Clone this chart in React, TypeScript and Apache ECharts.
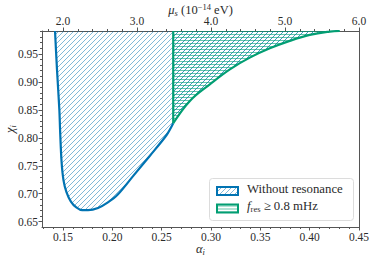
import React, { useEffect, useRef } from "react";
import * as echarts from "echarts";

// ---- data ----
const alphaTicks = [0.15, 0.2, 0.25, 0.3, 0.35, 0.4, 0.45];
const chiTicks = [0.65, 0.7, 0.75, 0.8, 0.85, 0.9, 0.95];
const muTicks = [2.0, 3.0, 4.0, 5.0, 6.0];

// lower boundary of the region without resonance (blue)
const blueAlpha = [0.1419, 0.1439, 0.1463, 0.147, 0.1485, 0.1505, 0.1535, 0.158, 0.1635, 0.1695, 0.1755, 0.1855, 0.1955, 0.2055, 0.2212, 0.2381, 0.255, 0.2617];
const blueChi = [0.991, 0.922, 0.85, 0.815, 0.758, 0.724, 0.703, 0.686, 0.6755, 0.6705, 0.6705, 0.6745, 0.6845, 0.6985, 0.732, 0.768, 0.805, 0.826];

// boundary of the f_res >= 0.8 mHz region (green)
const greenAlpha = [0.2617, 0.2786, 0.2988, 0.3191, 0.3393, 0.3596, 0.3798, 0.4001, 0.4203, 0.4305];
const greenChi = [0.826, 0.866, 0.8956, 0.9225, 0.9434, 0.96, 0.9733, 0.984, 0.9899, 0.991];

const chiTop = 0.991;
const alphaMin = 0.1287;
const alphaMax = 0.45;
const chiMin = 0.6405;
const chiMax = 0.991;
const alphaPerMu = 0.075; // alpha_i = 0.075 * mu_s (10^-14 eV)

const BLUE = "#0173B2";
const GREEN = "#029E73";
const FONT = "Liberation Serif";
const TXT = "#2b2b2b";
const FRAME = "#555555";
const HATCH_BLUE = "rgba(1,115,178,0.5)";
const HATCH_GREEN = "rgba(2,158,115,0.6)";

function range(a: number, b: number, step: number): number[] {
  const out: number[] = [];
  const n = Math.round((b - a) / step);
  for (let i = 0; i <= n; i++) out.push(+(a + i * step).toFixed(4));
  return out;
}

function makePattern(size: number, diag: boolean, horiz: boolean) {
  const c = document.createElement("canvas");
  c.width = size;
  c.height = size;
  const ctx = c.getContext("2d")!;
  if (diag) {
    ctx.strokeStyle = HATCH_BLUE;
    ctx.lineWidth = 1;
    ctx.beginPath();
    for (let cc = 0; cc <= 2 * size; cc += 5) {
      ctx.moveTo(cc + 1, -1);
      ctx.lineTo(cc - size - 1, size + 1);
    }
    ctx.stroke();
  }
  if (horiz) {
    ctx.fillStyle = HATCH_GREEN;
    for (let y = 1; y < size; y += 3) ctx.fillRect(0, y, size, 1);
  }
  return { image: c, repeat: "repeat", imageWidth: size, imageHeight: size } as any;
}

const richMath = {
  n: { fontFamily: FONT, fontSize: 12.5, color: TXT, lineHeight: 15 },
  i: { fontFamily: FONT, fontSize: 12.5, fontStyle: "italic", color: TXT, lineHeight: 15 },
  sub: { fontFamily: FONT, fontSize: 8.5, fontStyle: "italic", color: TXT, lineHeight: 9, verticalAlign: "bottom" },
  sup: { fontFamily: FONT, fontSize: 8.5, color: TXT, lineHeight: 9, verticalAlign: "top" },
};

export default function App() {
  const ref = useRef<HTMLDivElement>(null);

  useEffect(() => {
    if (!ref.current) return;
    const chart = echarts.init(ref.current, undefined, { renderer: "svg" });

    const bluePat = makePattern(15, true, false);
    const greenPat = makePattern(15, true, true);
    const greenLegendPat = makePattern(15, false, true);

    const regionAlpha = [...blueAlpha, ...greenAlpha.slice(1)];
    const regionChi = [...blueChi, ...greenChi.slice(1)];

    const labelBase = { fontFamily: FONT, fontSize: 11.5, color: TXT };
    const tickLine = { color: FRAME, width: 1 };

    const option: any = {
      animation: false,
      grid: { left: 42, right: 15, top: 31, bottom: 33, containLabel: false, outerBoundsMode: "none" },
      xAxis: [
        {
          type: "value", position: "bottom", min: alphaMin, max: alphaMax,
          axisLine: { show: true, onZero: false, lineStyle: tickLine },
          axisTick: { show: true, customValues: alphaTicks, length: 3.5, lineStyle: tickLine },
          axisLabel: { customValues: alphaTicks, formatter: (v: number) => v.toFixed(2), margin: 4, ...labelBase },
          splitLine: { show: false },
          name: "{i|α}{sub|i}", nameLocation: "middle", nameGap: 14.5, nameMoveOverlap: false,
          nameTextStyle: { rich: richMath },
        },
        {
          type: "value", position: "bottom", min: alphaMin, max: alphaMax,
          axisLine: { show: false, onZero: false },
          axisTick: { show: true, customValues: range(0.13, 0.45, 0.01), length: 2, lineStyle: tickLine },
          axisLabel: { show: false },
          splitLine: { show: false },
        },
        {
          type: "value", position: "top", min: alphaMin / alphaPerMu, max: alphaMax / alphaPerMu,
          axisLine: { show: true, onZero: false, lineStyle: tickLine },
          axisTick: { show: true, customValues: muTicks, length: 3.5, lineStyle: tickLine },
          axisLabel: { customValues: muTicks, formatter: (v: number) => v.toFixed(1), margin: 4, ...labelBase },
          splitLine: { show: false },
          name: "{i|μ}{sub|s} {n|(10}{sup|−14}{n| eV)}", nameLocation: "middle", nameGap: 13.5, nameMoveOverlap: false,
          nameTextStyle: { rich: richMath },
        },
        {
          type: "value", position: "top", min: alphaMin / alphaPerMu, max: alphaMax / alphaPerMu,
          axisLine: { show: false, onZero: false },
          axisTick: { show: true, customValues: range(1.8, 6.0, 0.2), length: 2, lineStyle: tickLine },
          axisLabel: { show: false },
          splitLine: { show: false },
        },
      ],
      yAxis: [
        {
          type: "value", position: "left", min: chiMin, max: chiMax,
          axisLine: { show: true, onZero: false, lineStyle: tickLine },
          axisTick: { show: true, customValues: chiTicks, length: 3.5, lineStyle: tickLine },
          axisLabel: { customValues: chiTicks, formatter: (v: number) => v.toFixed(2), margin: 4, ...labelBase },
          splitLine: { show: false },
          name: "{i|χ}{sub|i}", nameLocation: "middle", nameGap: 25, nameRotate: 90, nameMoveOverlap: false,
          nameTextStyle: { rich: richMath },
        },
        {
          type: "value", position: "left", min: chiMin, max: chiMax,
          axisLine: { show: false, onZero: false },
          axisTick: { show: true, customValues: range(0.65, 0.99, 0.01), length: 2, lineStyle: tickLine },
          axisLabel: { show: false },
          splitLine: { show: false },
        },
        {
          type: "value", position: "right", min: chiMin, max: chiMax,
          axisLine: { show: true, onZero: false, lineStyle: tickLine },
          axisTick: { show: false },
          axisLabel: { show: false },
          splitLine: { show: false },
        },
      ],
      series: [
        {
          type: "custom", name: "Without resonance", xAxisIndex: 0, yAxisIndex: 0,
          data: [[0.3, 0.8]], z: 1,
          renderItem: (_p: any, api: any) => {
            const pts = regionAlpha.map((a, i) => api.coord([a, regionChi[i]]));
            return { type: "polygon", shape: { points: pts }, style: { fill: bluePat, stroke: null } };
          },
        },
        {
          type: "custom", name: "f_res", xAxisIndex: 0, yAxisIndex: 0,
          data: [[0.3, 0.9]], z: 2,
          renderItem: (_p: any, api: any) => {
            const pts = [api.coord([greenAlpha[0], chiTop]), ...greenAlpha.map((a, i) => api.coord([a, greenChi[i]]))];
            return { type: "polygon", shape: { points: pts }, style: { fill: greenPat, stroke: null } };
          },
        },
        {
          type: "line", xAxisIndex: 0, yAxisIndex: 0, z: 3,
          data: blueAlpha.map((a, i) => [a, blueChi[i]]),
          showSymbol: false, symbol: "none", smooth: 0.3,
          lineStyle: { color: BLUE, width: 2.2 },
        },
        {
          type: "line", xAxisIndex: 0, yAxisIndex: 0, z: 4,
          data: [[greenAlpha[0], chiTop], [greenAlpha[0], greenChi[0]]],
          showSymbol: false, symbol: "none",
          lineStyle: { color: GREEN, width: 2.2 },
        },
        {
          type: "line", xAxisIndex: 0, yAxisIndex: 0, z: 4,
          data: greenAlpha.map((a, i) => [a, greenChi[i]]),
          showSymbol: false, symbol: "none", smooth: 0.4,
          lineStyle: { color: GREEN, width: 2.2 },
        },
      ],
      graphic: [
        {
          type: "rect", left: 209, top: 178, z: 100,
          shape: { width: 144, height: 42, r: 3 },
          style: { fill: "rgba(255,255,255,0.85)", stroke: "#dcdcdc", lineWidth: 1 },
        },
        {
          type: "rect", left: 216, top: 186, z: 101,
          shape: { width: 21, height: 8 },
          style: { fill: bluePat, stroke: BLUE, lineWidth: 2 },
        },
        {
          type: "rect", left: 216, top: 203.5, z: 101,
          shape: { width: 21, height: 8 },
          style: { fill: greenLegendPat, stroke: GREEN, lineWidth: 2 },
        },
        {
          type: "text", left: 247, top: 182, z: 101,
          style: { text: "Without resonance", fontFamily: FONT, fontSize: 12.8, fill: TXT },
        },
        {
          type: "text", left: 247, top: 199, z: 101,
          style: {
            text: "{i|f}{sub|res}{n| ≥ 0.8 mHz}",
            rich: {
              n: { fontFamily: FONT, fontSize: 12.8, fill: TXT, lineHeight: 16 },
              i: { fontFamily: FONT, fontSize: 12.8, fontStyle: "italic", fill: TXT, lineHeight: 16 },
              sub: { fontFamily: FONT, fontSize: 8.5, fill: TXT, lineHeight: 9, verticalAlign: "bottom" },
            },
          },
        },
      ],
    };

    chart.setOption(option);
    return () => chart.dispose();
  }, []);

  return (
    <div
      ref={ref}
      style={{ position: "absolute", left: 0, top: 0, width: 374, height: 260, background: "#fff" }}
    />
  );
}
